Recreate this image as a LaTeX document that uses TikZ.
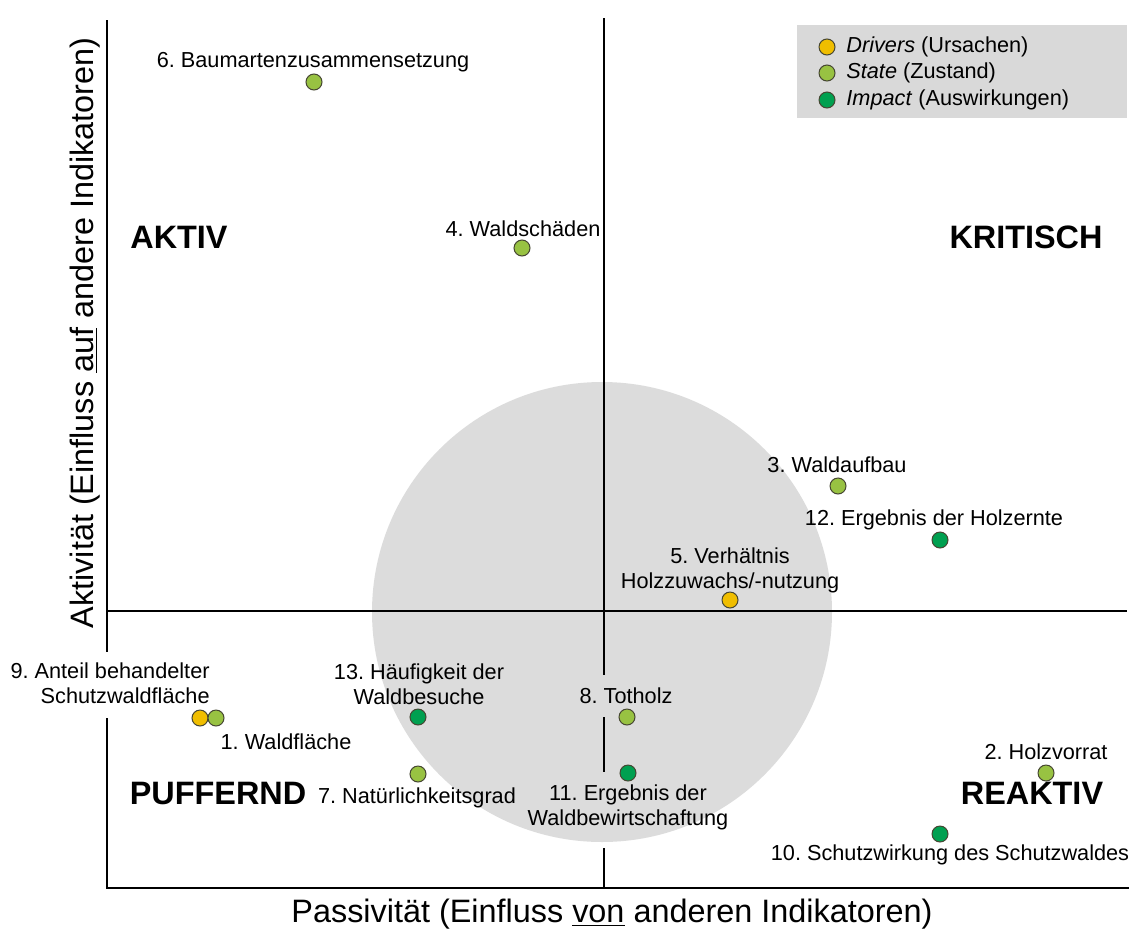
\documentclass[tikz,border=0pt]{standalone}
\usepackage{fontspec}
\setmainfont{Liberation Sans}
\frenchspacing
\definecolor{circgray}{RGB}{220,220,220}
\definecolor{leggray}{RGB}{217,217,217}
\definecolor{cdriver}{RGB}{240,190,0}
\definecolor{cstate}{RGB}{152,194,66}
\definecolor{cimpact}{RGB}{0,160,80}
\definecolor{dotline}{RGB}{70,70,50}
\begin{document}
\begin{tikzpicture}[x=0.5pt,y=-0.5pt,
  dot/.style={circle,draw=dotline,line width=0.5pt,minimum size=8pt,inner sep=0pt},
  driver/.style={dot,fill=cdriver},
  stat/.style={dot,fill=cstate},
  impact/.style={dot,fill=cimpact},
  lbl/.style={inner sep=0pt,font=\fontsize{10.85}{12.5}\selectfont,align=center},
  quad/.style={inner sep=0pt,font=\fontsize{16.2}{18}\selectfont\bfseries},
  axlbl/.style={inner sep=0pt,font=\fontsize{16.2}{18}\selectfont},
  axis/.style={line width=1pt,black},
  mid/.style={line width=0.75pt,black}]
\useasboundingbox (0,0) rectangle (1129,932);
\fill[white] (0,0) rectangle (1129,932);
% grey circle
\fill[circgray] (602,612) circle[radius=115pt];
% legend box
\fill[leggray] (797,25) rectangle (1127,118);
% coordinates for the lines
\coordinate (vt) at (604,18);
\coordinate (va) at (604,675);
\coordinate (vb) at (604,717);
\coordinate (vc) at (604,772);
\coordinate (vd) at (604,848);
\coordinate (vbot) at (604,888);
\coordinate (hl) at (107,611);
\coordinate (hr) at (1127,611);
\coordinate (lt) at (107,20);
\coordinate (la) at (107,652);
\coordinate (lb) at (107,718);
\coordinate (origin) at (107,888);
\coordinate (br) at (1129,888);
% centre lines
\draw[mid] (vt) -- (va);
\draw[mid] (vb) -- (vc);
\draw[mid] (vd) -- (vbot);
\draw[mid] (hl) -- (hr);
% axes
\draw[axis] (lt) -- (la);
\draw[axis] (lb) -- (origin) -- (br);
% dots
\node[stat]   (d6)  at (314,82) {};
\node[stat]   (d4)  at (522,248) {};
\node[stat]   (d3)  at (838,486) {};
\node[impact] (d12) at (940,540) {};
\node[driver] (d5)  at (730,600) {};
\node[driver] (d9)  at (200,718) {};
\node[stat]   (d1)  at (216,718) {};
\node[impact] (d13) at (418,717) {};
\node[stat]   (d7)  at (418,774) {};
\node[stat]   (d8)  at (627,717) {};
\node[impact] (d11) at (628,773) {};
\node[stat]   (d2)  at (1046,773) {};
\node[impact] (d10) at (940,834) {};
% labels
\node[lbl] (l6)  at (313,62)  {6. Baumartenzusammensetzung};
\node[lbl] (l4)  at (523,229) {4. Waldschäden};
\node[lbl] (l3)  at (837,465) {3. Waldaufbau};
\node[lbl] (l12) at (934,520) {12. Ergebnis der Holzernte};
\node[lbl] (l5)  at (730,570) {5. Verhältnis\\Holzzuwachs/-nutzung};
\node[lbl,align=right,anchor=east] (l9) at (210,683) {9. Anteil behandelter\\Schutzwaldfläche};
\node[lbl] (l1)  at (286,742) {1. Waldfläche};
\node[lbl] (l13) at (419,684) {13. Häufigkeit der\\Waldbesuche};
\node[lbl] (l7)  at (417,798) {7. Natürlichkeitsgrad};
\node[lbl] (l8)  at (626,696) {8. Totholz};
\node[lbl] (l11) at (628,807) {11. Ergebnis der\\Waldbewirtschaftung};
\node[lbl] (l2)  at (1046,752) {2. Holzvorrat};
\node[lbl] (l10) at (950,855) {10. Schutzwirkung des Schutzwaldes};
% quadrant names
\node[quad] (qa) at (179,237) {AKTIV};
\node[quad] (qk) at (1026,237) {KRITISCH};
\node[quad] (qp) at (218,793) {PUFFERND};
\node[quad] (qr) at (1032,793) {REAKTIV};
% axis titles
\node[axlbl] (xt) at (612,914) {Passivität (Einfluss \underline{von} anderen Indikatoren)};
\node[axlbl,rotate=90] (yt) at (85,333) {Aktivität (Einfluss \underline{auf} andere Indikatoren)};
% legend
\node[driver] (ld) at (827,47) {};
\node[stat]   (ls) at (827,73) {};
\node[impact] (li) at (827,100) {};
\node[lbl,anchor=west] (ltd) at (846,47) {\textit{Drivers} (Ursachen)};
\node[lbl,anchor=west] (lts) at (846,73) {\textit{State} (Zustand)};
\node[lbl,anchor=west] (lti) at (846,100) {\textit{Impact} (Auswirkungen)};
\end{tikzpicture}
\end{document}
